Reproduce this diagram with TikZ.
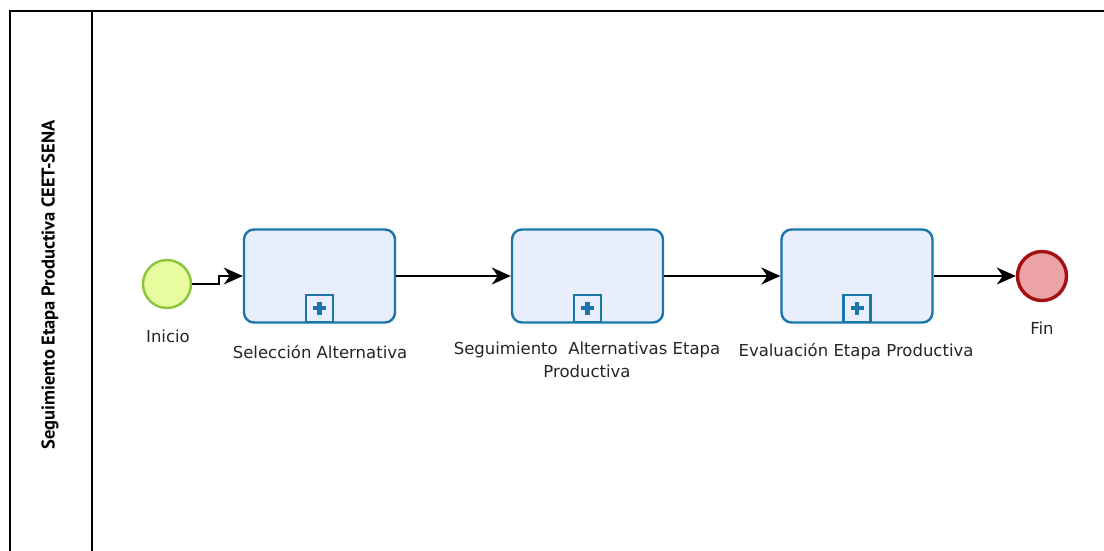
\documentclass[tikz,border=0pt]{standalone}
\usepackage{fontspec}
\setmainfont{DejaVu Sans}
\newfontfamily\poolfont{PT Sans}
\usetikzlibrary{arrows.meta}
\definecolor{taskfill}{HTML}{E9EEFC}
\definecolor{taskline}{HTML}{1A75A8}
\definecolor{startfill}{HTML}{E8FB9E}
\definecolor{startline}{HTML}{8CC43C}
\definecolor{endfill}{HTML}{EBA3A6}
\definecolor{endline}{HTML}{A50F12}
\tikzset{
  x=1pt, y=-1pt,
  pool/.style={draw=black, line width=1.4pt},
  subprocess/.style={draw=taskline, fill=taskfill, line width=2.4pt, rounded corners=10pt,
    minimum width=151pt, minimum height=93pt, inner sep=0pt},
  marker/.style={draw=taskline, fill=taskfill, line width=2.2pt, minimum size=27pt, inner sep=0pt},
  startev/.style={circle, draw=startline, fill=startfill, line width=2.4pt, minimum size=48pt, inner sep=0pt},
  endev/.style={circle, draw=endline, fill=endfill, line width=3.4pt, minimum size=49pt, inner sep=0pt},
  flow/.style={draw=black, line width=1.6pt, -{Stealth[length=19pt, width=17pt, inset=6pt]}},
  lbl/.style={font=\fontsize{16.5}{23}\selectfont, text=black!85, align=center, inner sep=0pt},
}
\newcommand{\plusmark}[1]{%
  \fill[taskline] ([xshift=-6.5pt,yshift=-2.2pt]#1) rectangle ([xshift=6.5pt,yshift=2.2pt]#1);
  \fill[taskline] ([xshift=-2.2pt,yshift=-6.5pt]#1) rectangle ([xshift=2.2pt,yshift=6.5pt]#1);
}
\begin{document}
\begin{tikzpicture}
\useasboundingbox (0,0) rectangle (1104,550);
\fill[white] (0,0) rectangle (1104,550);

% pool with its header band
\draw[pool] (1110,11) -- (10,11) -- (10,560);
\draw[pool] (92,11) -- (92,560);
\node[rotate=90, font=\poolfont\bfseries\fontsize{18.5}{22}\selectfont] (pooltitle) at (50,285)
  {Seguimiento Etapa Productiva CEET-SENA};

% events
\node[startev] (inicio) at (167,284) {};
\node[endev] (fin) at (1042,276) {};
\node[lbl] (inicioLbl) at (168,336) {Inicio};
\node[lbl] (finLbl) at (1042,328) {Fin};

% collapsed sub-processes
\node[subprocess] (t1) at (319.5,276) {};
\node[subprocess] (t2) at (587.5,276) {};
\node[subprocess] (t3) at (857,276) {};
\foreach \t in {t1,t2,t3}{
  \node[marker, anchor=south] (\t m) at ([yshift=1pt]\t.south) {};
  \plusmark{\t m.center}
}
\node[lbl] (t1Lbl) at (320,352) {Selección Alternativa};
\node[lbl, anchor=north] (t2Lbl) at (587,342) {Seguimiento\ \ Alternativas Etapa\\Productiva};
\node[lbl] (t3Lbl) at (856,352) {Evaluación Etapa Productiva};

% sequence flows
\coordinate (bend) at (219,284);
\draw[flow] (inicio.east) -- (bend) |- (t1.west);
\draw[flow] (t1.east) -- (t2.west);
\draw[flow] (t2.east) -- (t3.west);
\draw[flow] (t3.east) -- (fin.west);
\end{tikzpicture}
\end{document}
